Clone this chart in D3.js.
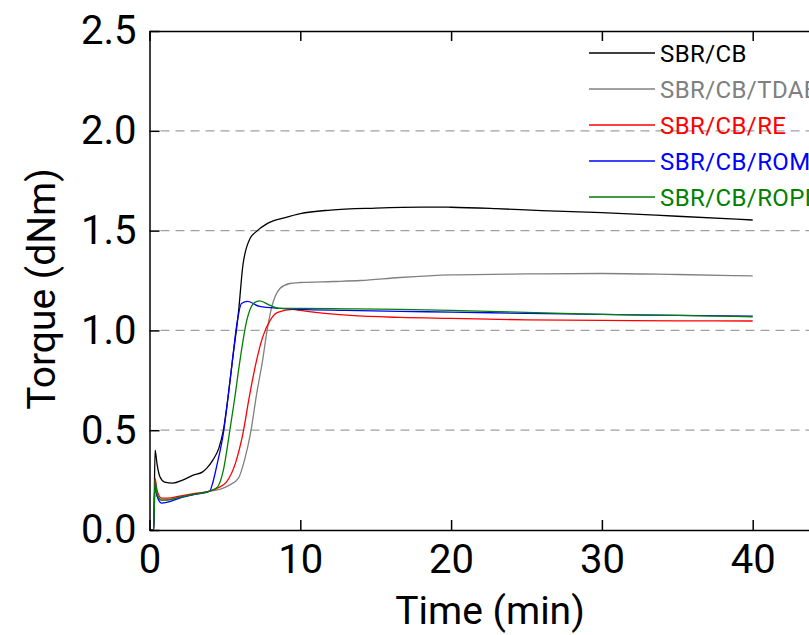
<!DOCTYPE html>
<html>
  <head>
    <meta charset="utf-8">
    <script src="https://cdn.jsdelivr.net/npm/d3@7"></script>
    <style>
        body { margin:0; background:#fff; overflow:hidden; }
        svg { display:block; font-family: Roboto, "Liberation Sans", Arial, sans-serif; }
    </style>
  </head>
  <body>
    <script>
      var width = 809, height = 635;

      // time (min), torque (dNm) pairs
      var sbrCb = [[0,0],[0.28,0],[0.37,0.40],[0.5,0.33],[0.7,0.265],[1,0.24],[1.55,0.235],[2.2,0.25],[2.9,0.275],
        [3.5,0.29],[3.8,0.31],[4.2,0.35],[4.6,0.41],[4.9,0.5],[5.2,0.66],[5.5,0.85],[5.9,1.09],[6.2,1.33],
        [6.7,1.465],[7,1.49],[7.8,1.535],[9,1.565],[10,1.585],[12,1.603],[15,1.613],[18,1.618],[20,1.617],
        [23,1.61],[26,1.6],[30,1.59],[35,1.572],[40,1.553]];
      var sbrCbTdae = [[0,0],[0.28,0],[0.36,0.22],[0.5,0.17],[0.8,0.15],[1.2,0.152],[2,0.165],[3,0.18],[4,0.195],
        [4.7,0.205],[5.3,0.225],[5.9,0.26],[6.3,0.35],[6.7,0.485],[7.1,0.68],[7.5,0.85],[7.8,1.0],[8.1,1.115],
        [8.65,1.21],[9.3,1.235],[10,1.24],[12.2,1.245],[14,1.25],[16.6,1.265],[20,1.278],[25,1.283],[30,1.285],
        [35,1.28],[40,1.273]];
      var sbrCbRe = [[0,0],[0.28,0],[0.36,0.26],[0.5,0.2],[0.8,0.16],[1.2,0.16],[2,0.17],[3,0.183],[4,0.195],
        [4.5,0.21],[5.1,0.24],[5.7,0.335],[6.2,0.485],[6.6,0.66],[7.1,0.85],[7.5,0.965],[8,1.05],[8.5,1.09],
        [9.5,1.105],[10,1.1],[11,1.09],[13.3,1.075],[16.6,1.065],[20,1.06],[25,1.053],[30,1.05],[35,1.048],[40,1.047]];
      var sbrCbRom = [[0,0],[0.28,0],[0.36,0.24],[0.5,0.17],[0.8,0.135],[1.2,0.14],[2,0.16],[3,0.178],[4,0.195],
        [4.15,0.225],[4.5,0.335],[4.9,0.485],[5.2,0.66],[5.5,0.85],[5.8,1.035],[6.1,1.135],[6.5,1.145],
        [7.3,1.12],[8.7,1.11],[10,1.105],[13,1.1],[16.6,1.095],[20,1.092],[25,1.085],[30,1.08],[35,1.075],[40,1.072]];
      var sbrCbRope = [[0,0],[0.28,0],[0.36,0.25],[0.5,0.18],[0.8,0.15],[1.2,0.15],[2,0.165],[3,0.18],[4,0.195],
        [4.5,0.215],[4.9,0.3],[5.3,0.485],[5.65,0.66],[6,0.85],[6.45,1.05],[6.9,1.135],[7.3,1.148],[8,1.125],
        [8.7,1.11],[10,1.11],[13,1.108],[16.6,1.105],[20,1.1],[25,1.09],[30,1.08],[35,1.075],[40,1.068]];

      var seriesNames = ["SBR/CB", "SBR/CB/TDAE", "SBR/CB/RE", "SBR/CB/ROM", "SBR/CB/ROPE"];
      var seriesColors = ["#000000", "#808080", "#ff0000", "#0000ff", "#008000"];
      var seriesData = [sbrCb, sbrCbTdae, sbrCbRe, sbrCbRom, sbrCbRope];

      var xTicks = [0, 10, 20, 30, 40];
      var yTicks = [0.0, 0.5, 1.0, 1.5, 2.0, 2.5];
      var gridValues = [0.5, 1.0, 1.5, 2.0];

      var margin = {left: 149.5, top: 31, bottom: 530};

      var x = d3.scaleLinear().domain([0, 45]).range([margin.left, margin.left + 45 * 15.08]);
      var y = d3.scaleLinear().domain([0, 2.5]).range([margin.bottom, margin.top]);

      var svg = d3.select("body").append("svg")
          .attr("width", width)
          .attr("height", height);

      // dashed grid
      svg.append("g").selectAll("line")
        .data(gridValues)
        .enter().append("line")
          .attr("x1", x(0) + 11)
          .attr("x2", x(45))
          .attr("y1", function(d) { return y(d); })
          .attr("y2", function(d) { return y(d); })
          .attr("stroke", "#a0a0a0")
          .attr("stroke-width", 1.3)
          .attr("stroke-dasharray", "9,6");

      // curves
      var line = d3.line()
          .x(function(d) { return x(d[0]); })
          .y(function(d) { return y(d[1]); })
          .curve(d3.curveMonotoneX);

      svg.append("g").selectAll("path")
        .data(seriesData)
        .enter().append("path")
          .attr("d", line)
          .attr("fill", "none")
          .attr("stroke", function(d, i) { return seriesColors[i]; })
          .attr("stroke-width", 1.3);

      // axes (ticks inward)
      var axisFont = 40;
      var gBottom = svg.append("g").attr("transform", "translate(0," + y(0) + ")")
          .call(d3.axisBottom(x).tickValues(xTicks).tickSizeInner(-10).tickSizeOuter(0).tickPadding(15)
            .tickFormat(d3.format("d")));
      var gTop = svg.append("g").attr("transform", "translate(0," + y(2.5) + ")")
          .call(d3.axisTop(x).tickValues(xTicks).tickSizeInner(-10).tickSizeOuter(0).tickFormat(""));
      var gLeft = svg.append("g").attr("transform", "translate(" + x(0) + ",0)")
          .call(d3.axisLeft(y).tickValues(yTicks).tickSizeInner(-10).tickSizeOuter(0).tickPadding(13)
            .tickFormat(d3.format(".1f")));

      [gBottom, gTop, gLeft].forEach(function(g) {
        g.selectAll(".domain").attr("stroke", "#000").attr("stroke-width", 1.5);
        g.selectAll(".tick line").attr("stroke", "#000").attr("stroke-width", 1.5);
        g.selectAll("text").attr("font-size", axisFont).attr("fill", "#000")
          .attr("font-family", "Roboto, 'Liberation Sans', Arial, sans-serif");
      });

      svg.append("text")
          .attr("x", 490)
          .attr("y", 624)
          .attr("text-anchor", "middle")
          .attr("font-size", 39)
          .text("Time (min)");

      svg.append("text")
          .attr("transform", "translate(55,289) rotate(-90)")
          .attr("text-anchor", "middle")
          .attr("font-size", 39)
          .text("Torque (dNm)");

      // legend
      var legend = svg.append("g").selectAll("g")
        .data(seriesNames)
        .enter().append("g")
          .attr("transform", function(d, i) { return "translate(589," + (62 + i * 36) + ")"; });

      legend.append("line")
          .attr("x1", 0).attr("x2", 66)
          .attr("y1", -9).attr("y2", -9)
          .attr("stroke", function(d, i) { return seriesColors[i]; })
          .attr("stroke-width", 1.3);

      legend.append("text")
          .attr("x", 71)
          .attr("font-size", 24)
          .attr("letter-spacing", 0.4)
          .attr("fill", function(d, i) { return seriesColors[i]; })
          .text(function(d) { return d; });
    </script>
  </body>
</html>
